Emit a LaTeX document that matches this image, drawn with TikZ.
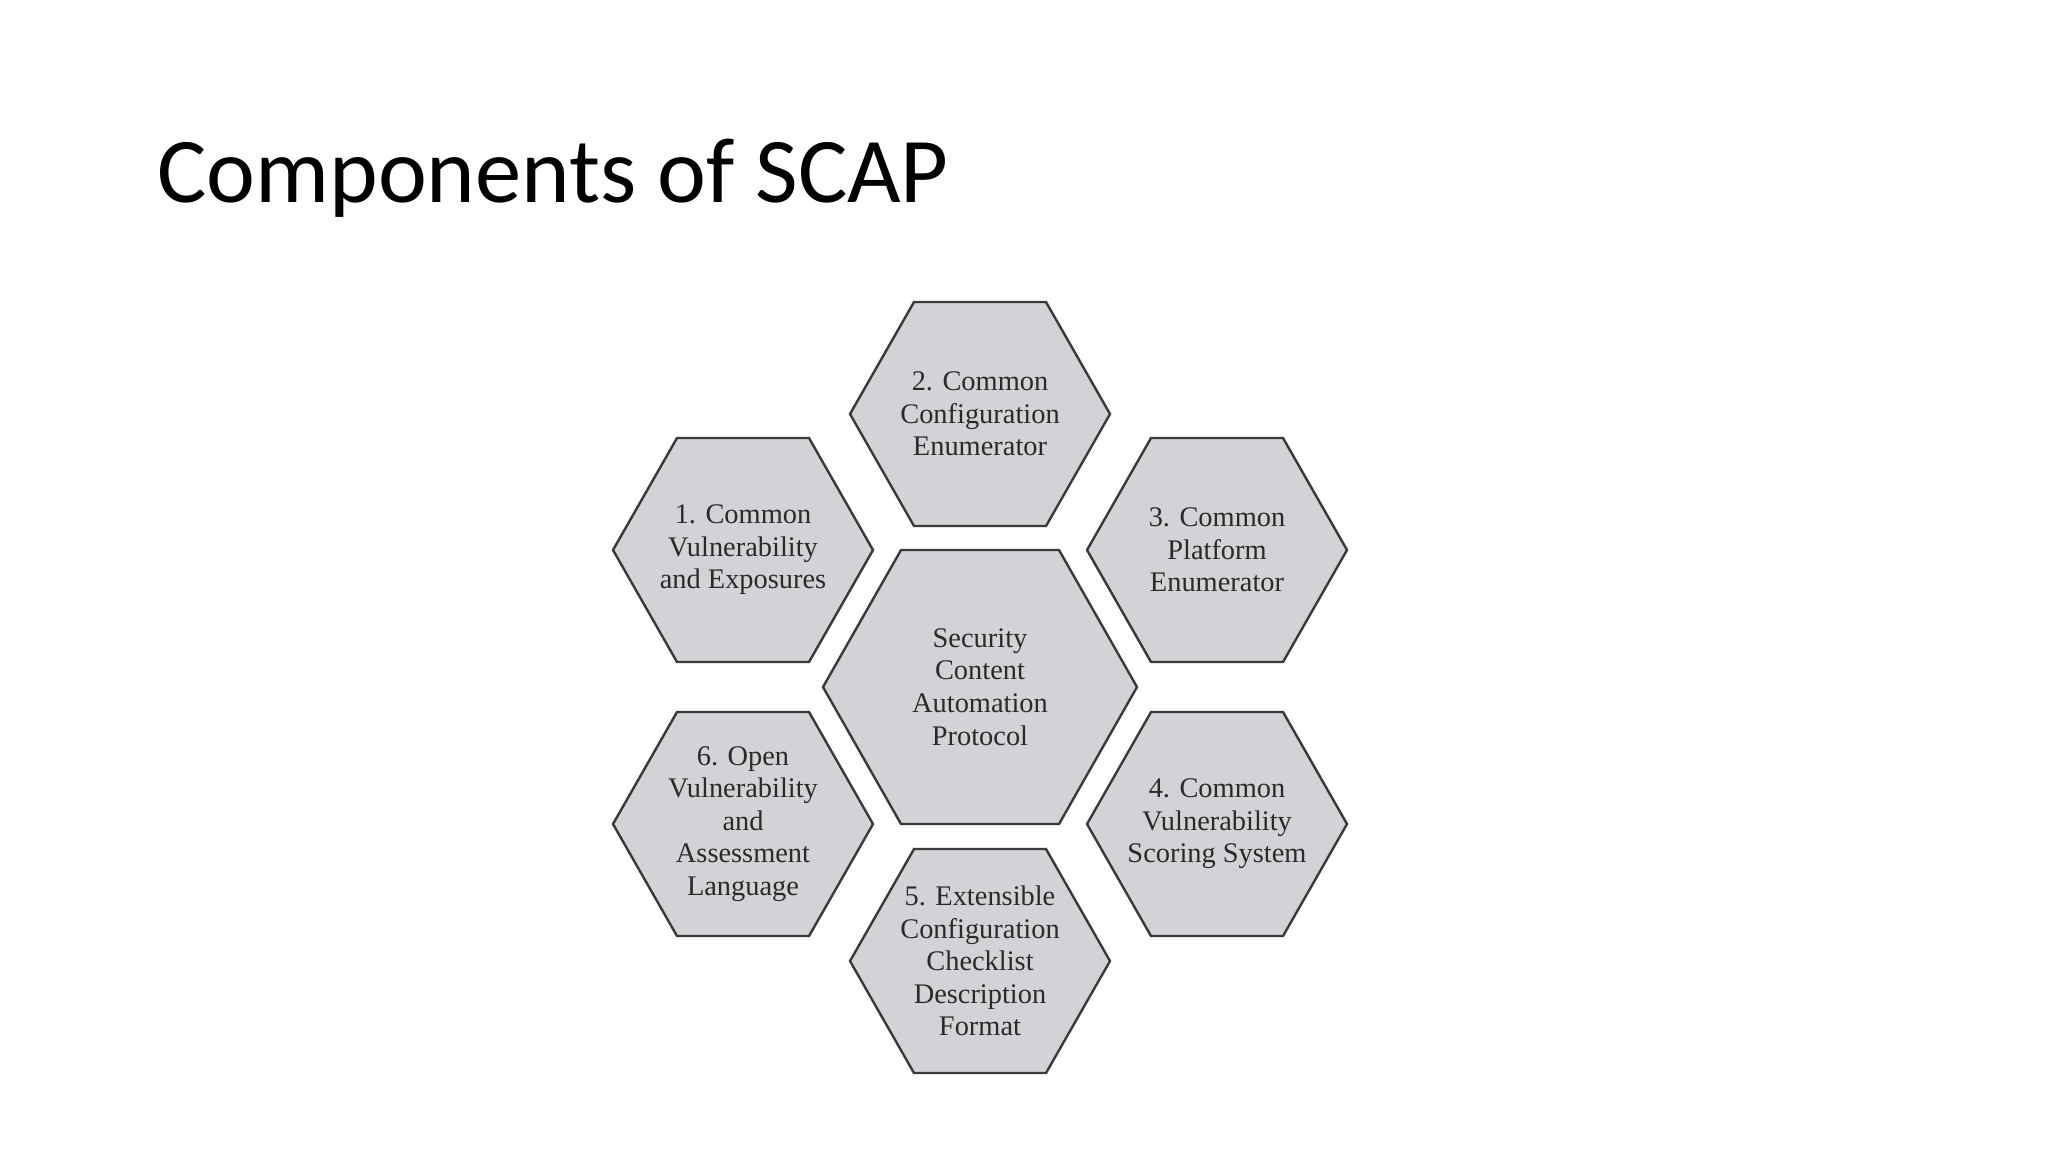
\documentclass[tikz,border=0pt]{standalone}
\usepackage{fontspec}
\setmainfont{Liberation Serif}
\newfontfamily\titlefont{Carlito}
\definecolor{hexfill}{HTML}{D3D3D7}
\definecolor{hexline}{HTML}{3A3A3A}
\definecolor{hextxt}{HTML}{2A2A2A}
\tikzset{
  hexcell/.style={draw=hexline, fill=hexfill, line width=1.2pt, line join=miter},
  hextext/.style={text=hextxt, align=center, font=\fontsize{14.2}{16.3}\selectfont, inner sep=0pt},
  titletext/.style={anchor=base west, inner sep=0pt, font=\titlefont\fontsize{46.3}{50}\selectfont}
}
% name, cx, cy, half-width, half-height, half top edge, text
\newcommand\hexcellnode[7]{%
  \begin{scope}[shift={(#2,#3)}]
    \draw[hexcell] (-#4,0) -- (-#6,-#5) -- (#6,-#5) -- (#4,0) -- (#6,#5) -- (-#6,#5) -- cycle;
  \end{scope}
  \node[hextext] (#1) at (#2,#3) {#7};%
}
\begin{document}
\begin{tikzpicture}[x=0.5pt,y=-0.5pt]
  \useasboundingbox[fill=white] (0,0) rectangle (2048,1152);
  \node[titletext] (title) at (157,202) {Components of SCAP};

  \hexcellnode{h2}{980}{414}{130}{112}{66}{2. Common\\Configuration\\Enumerator}
  \hexcellnode{h1}{743}{550}{130}{112}{66}{1. Common\\Vulnerability\\and Exposures}
  \hexcellnode{h3}{1217}{550}{130}{112}{66}{3. Common\\Platform\\Enumerator}
  \hexcellnode{hc}{980}{687}{157}{137}{79}{Security\\Content\\Automation\\Protocol}
  \hexcellnode{h6}{743}{824}{130}{112}{66}{6. Open\\Vulnerability\\and\\Assessment\\Language}
  \hexcellnode{h4}{1217}{824}{130}{112}{66}{4. Common\\Vulnerability\\Scoring System}
  \hexcellnode{h5}{980}{961}{130}{112}{66}{5. Extensible\\Configuration\\Checklist\\Description\\Format}
\end{tikzpicture}
\end{document}
